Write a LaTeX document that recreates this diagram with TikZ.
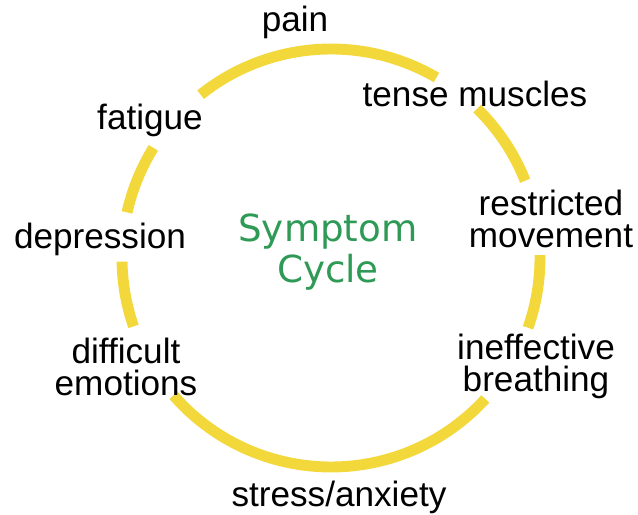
\documentclass[tikz,border=0pt]{standalone}
\usepackage{fontspec}
\setmainfont{Liberation Sans}
\newfontfamily\titlefont{DejaVu Sans}
\definecolor{cycyellow}{RGB}{243,216,59}
\definecolor{cycgreen}{RGB}{46,154,85}
\tikzset{
  cycarc/.style={draw=cycyellow,line width=3.1pt},
  symptom/.style={font=\fontsize{10}{9.1}\selectfont,align=center,inner sep=0pt},
}
\begin{document}
\begin{tikzpicture}
  \useasboundingbox (-3.31,-2.57) rectangle (3.07,2.58);
  \coordinate (O) at (0,0);
  % arcs of the cycle
  \draw[cycarc] (128.6:2.09) arc[start angle=128.6,end angle=59.7,radius=2.09];
  \draw[cycarc] (45.6:2.09) arc[start angle=45.6,end angle=21.7,radius=2.09];
  \draw[cycarc] (0.8:2.09) arc[start angle=0.8,end angle=-19.5,radius=2.09];
  \draw[cycarc] (-42.4:2.09) arc[start angle=-42.4,end angle=-138.9,radius=2.09];
  \draw[cycarc] (199.1:2.09) arc[start angle=199.1,end angle=181,radius=2.09];
  \draw[cycarc] (167.4:2.09) arc[start angle=167.4,end angle=148.2,radius=2.09];
  % labels
  \node[symptom] (pain) at (-0.36,2.36) {pain};
  \node[symptom] (tense) at (1.44,1.64) {tense muscles};
  \node[symptom] (restr) at (2.20,0.39) {restricted\\movement};
  \node[symptom] (ineff) at (2.05,-1.08) {ineffective\\breathing};
  \node[symptom] (stress) at (0.08,-2.39) {stress/anxiety};
  \node[symptom] (diff) at (-2.05,-1.09) {difficult\\emotions};
  \node[symptom] (depr) at (-2.31,0.19) {depression};
  \node[symptom] (fatigue) at (-1.81,1.38) {fatigue};
  \node[font=\titlefont\fontsize{10.6}{11.7}\selectfont,text=cycgreen,align=center,inner sep=0pt] (title) at (-0.03,0.06) {Symptom\\Cycle};
\end{tikzpicture}
\end{document}
